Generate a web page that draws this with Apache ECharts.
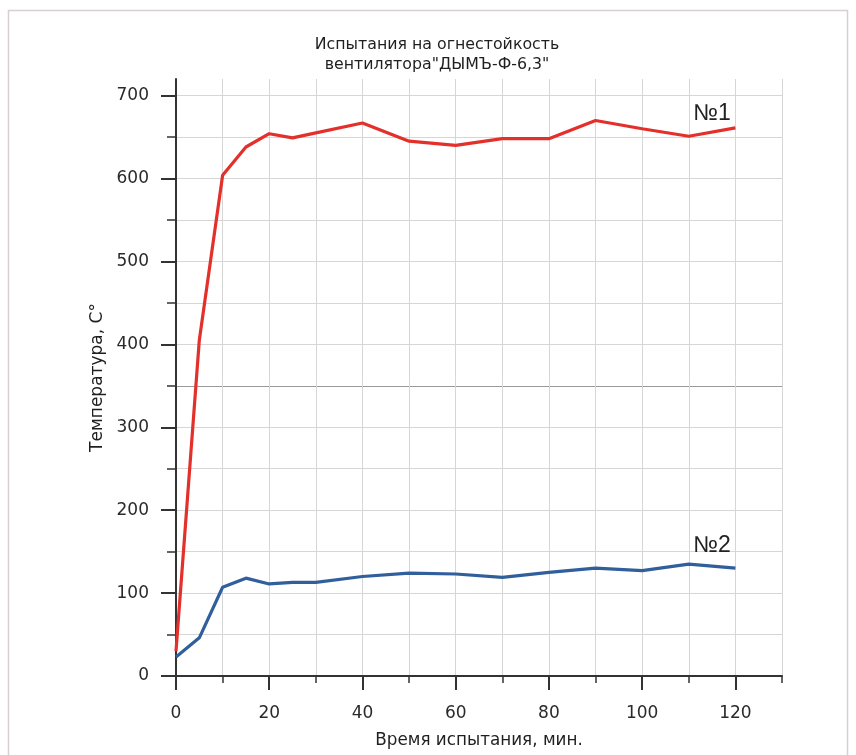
<!DOCTYPE html>
<html>
<head>
<meta charset="utf-8">
<script src="https://cdn.jsdelivr.net/npm/echarts@6/dist/echarts.min.js"></script>
<style>html,body{margin:0;padding:0;background:#fff}#c{width:856px;height:755px}</style>
</head>
<body>
<div id="c"></div>
<script>
var times = [0, 5, 10, 15, 20, 25, 30, 40, 50, 60, 70, 80, 90, 100, 110, 120];
var series1 = [30, 405, 604, 638, 654, 649, 655, 667, 645, 640, 648, 648, 670, 660, 651, 661];
var series2 = [23, 46, 107, 118, 111, 113, 113, 120, 124, 123, 119, 125, 130, 127, 135, 130];
var xMajorTicks = [0, 20, 40, 60, 80, 100, 120];
var xMinorTicks = [0, 10, 20, 30, 40, 50, 60, 70, 80, 90, 100, 110, 120, 130];
var yMajorTicks = [0, 100, 200, 300, 400, 500, 600, 700];
var yMinorTicks = [0, 50, 100, 150, 200, 250, 300, 350, 400, 450, 500, 550, 600, 650, 700];
var seriesNames = ['№1', '№2'];
var titleText = 'Испытания на огнестойкость\nвентилятора"ДЫМЪ-Ф-6,3"';
var xName = 'Время испытания, мин.';
var yName = 'Температура, С°';

var FONT = 'DejaVu Sans, Verdana, sans-serif';
var LFONT = 'Liberation Sans, Arial, sans-serif';
var chart = echarts.init(document.getElementById('c'));
function pairs(xs, ys) { return xs.map(function (x, i) { return [x, ys[i]]; }); }
var gridColors = yMinorTicks.map(function (v) { return v === 350 ? '#9a9a9a' : '#d6d6d6'; });

var option = {
  backgroundColor: '#fff',
  animation: false,
  title: {
    text: titleText, left: 432, top: 30, textAlign: 'center',
    textStyle: { fontFamily: FONT, fontSize: 15.8, fontWeight: 'normal', color: '#1f1f1f', lineHeight: 20 }
  },
  grid: { left: 176, right: 74, top: 79, bottom: 79 },
  xAxis: [{
    type: 'value', min: 0, max: 130, interval: 10,
    name: xName, nameLocation: 'middle', nameGap: 56,
    nameTextStyle: { fontFamily: FONT, fontSize: 16.8, color: '#1f1f1f' },
    axisLine: { show: true, onZero: false, lineStyle: { color: '#333', width: 2 } },
    axisTick: { show: true, length: 14, customValues: xMajorTicks, lineStyle: { color: '#333', width: 2 } },
    axisLabel: { customValues: xMajorTicks, margin: 29, fontFamily: FONT, fontSize: 17, color: '#2a2a2a' },
    splitLine: { show: false }
  }, {
    type: 'value', min: 0, max: 130, interval: 10, position: 'bottom',
    axisLine: { show: false },
    axisTick: { show: true, length: 7, customValues: xMinorTicks, lineStyle: { color: '#333', width: 1.5 } },
    axisLabel: { show: false },
    splitLine: { show: true, lineStyle: { color: '#d6d6d6', width: 1 } }
  }],
  yAxis: [{
    type: 'value', min: 0, max: 720, interval: 50,
    name: yName, nameLocation: 'middle', nameGap: 66, nameRotate: 90,
    nameTextStyle: { fontFamily: FONT, fontSize: 17, color: '#1f1f1f' },
    axisLine: { show: true, lineStyle: { color: '#333', width: 2 } },
    axisTick: { show: true, length: 15, customValues: yMajorTicks, lineStyle: { color: '#333', width: 2 } },
    axisLabel: { customValues: yMajorTicks, margin: 27, fontFamily: FONT, fontSize: 17, color: '#2a2a2a' },
    splitLine: { show: false }
  }, {
    type: 'value', min: 0, max: 720, interval: 50, position: 'left',
    axisLine: { show: false },
    axisTick: { show: true, length: 9, customValues: yMinorTicks, lineStyle: { color: '#333', width: 1.5 } },
    axisLabel: { show: false },
    splitLine: { show: true, lineStyle: { color: gridColors, width: 1 } }
  }],
  series: [{
    name: seriesNames[0], type: 'line', data: pairs(times, series1),
    xAxisIndex: 0, yAxisIndex: 0, symbol: 'none', z: 3,
    lineStyle: { color: '#e3302b', width: 3.2 }
  }, {
    name: seriesNames[1], type: 'line', data: pairs(times, series2),
    xAxisIndex: 0, yAxisIndex: 0, symbol: 'none', z: 3,
    lineStyle: { color: '#305f9c', width: 3.2 }
  }]
};
chart.setOption(option);

var p1 = chart.convertToPixel({ xAxisIndex: 0, yAxisIndex: 0 }, [115, 678]);
var p2 = chart.convertToPixel({ xAxisIndex: 0, yAxisIndex: 0 }, [115, 157]);
chart.setOption({
  graphic: [{
    type: 'rect', shape: { x: 8.5, y: 10.5, width: 839, height: 760 },
    style: { fill: 'none', stroke: '#d8cfd1', lineWidth: 1.5 }, silent: true
  }, {
    type: 'text', x: p1[0], y: p1[1],
    style: { text: seriesNames[0], fontFamily: LFONT, fontSize: 23, fill: '#222', textAlign: 'center', textVerticalAlign: 'middle' }
  }, {
    type: 'text', x: p2[0], y: p2[1],
    style: { text: seriesNames[1], fontFamily: LFONT, fontSize: 23, fill: '#222', textAlign: 'center', textVerticalAlign: 'middle' }
  }]
});
</script>
</body>
</html>
